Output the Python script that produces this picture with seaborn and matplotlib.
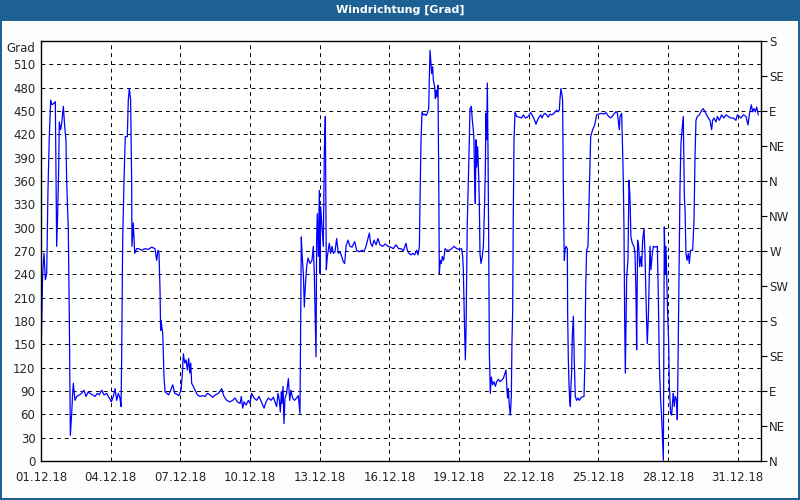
import numpy as np
import pandas as pd
import matplotlib
matplotlib.use("Agg")
import matplotlib.pyplot as plt
import matplotlib.dates as mdates
import matplotlib.patches as mpatches
import seaborn as sns

# Wind direction, December 2018 (hours since 01.12.18 00:00, degrees)
HOURS = [
    0, 0.7, 1.7, 3.1, 4.5, 5.9, 7.2, 8.6, 10.0, 11.4, 13.4, 14.8, 15.5, 16.2, 17.2, 18.3, 18.9, 20.3, 21.4, 23.1,
    24.5, 25.8, 26.5, 28.2, 29.3, 30.3, 31.7, 32.7, 33.4, 35.1, 36.9, 39.6, 42.0, 44.4, 46.5, 48.9, 50.6, 53.4,
    55.8, 58.2, 60.3, 62.7, 65.1, 67.8, 70.6, 72.7, 74.7, 76.5, 78.2, 79.9, 81.6, 82.7, 83.3, 84.4, 85.8, 87.1,
    89.2, 90.2, 91.3, 92.6, 93.7, 94.0, 95.4, 96.8, 98.8, 100.9, 104.0, 107.5, 110.9, 114.3, 117.8, 119.5, 120.9,
    121.9, 123.0, 123.6, 124.0, 125.8, 127.1, 128.2, 129.9, 132.0, 134.0, 136.1, 138.2, 140.2, 142.3, 144.7,
    146.1, 147.1, 148.5, 149.9, 151.2, 152.6, 153.7, 154.7, 155.7, 157.4, 159.2, 161.6, 164.3, 167.1, 169.5,
    171.9, 174.7, 177.4, 180.2, 183.3, 186.7, 189.1, 191.9, 195.3, 198.1, 200.5, 202.9, 205.7, 207.0, 208.4,
    209.8, 211.9, 214.3, 216.0, 217.7, 220.1, 222.9, 225.3, 227.7, 230.5, 232.5, 234.9, 237.7, 240.1, 241.8,
    243.5, 244.9, 246.3, 247.3, 248.4, 249.0, 250.1, 251.1, 252.1, 253.8, 255.6, 257.0, 258.3, 260.0, 262.1,
    264.2, 265.9, 267.0, 267.6, 268.3, 269.0, 269.7, 271.1, 272.1, 273.1, 274.5, 275.9, 278.0, 280.0, 281.4,
    282.4, 283.5, 284.2, 284.8, 285.5, 286.6, 287.6, 288.3, 289.0, 290.4, 291.7, 292.8, 293.8, 294.8, 295.9,
    297.9, 299.3, 300.7, 302.1, 303.8, 305.5, 307.2, 309.0, 310.7, 312.4, 313.8, 315.2, 317.2, 319.3, 321.4,
    324.1, 326.2, 329.0, 331.7, 333.8, 335.8, 337.5, 339.3, 340.6, 342.4, 344.1, 346.2, 348.2, 350.3, 353.0,
    355.8, 358.5, 361.3, 364.1, 366.8, 369.6, 372.3, 374.4, 376.1, 377.2, 378.5, 380.3, 382.3, 384.1, 386.1,
    388.2, 389.6, 391.0, 391.6, 392.7, 393.7, 395.1, 396.5, 397.8, 399.2, 400.6, 401.3, 402.0, 402.7, 403.7,
    404.7, 405.4, 406.8, 407.5, 408.2, 409.2, 410.2, 411.0, 411.6, 412.6, 413.7, 414.7, 416.1, 417.5, 419.2,
    422.0, 424.4, 426.8, 429.5, 432.3, 434.7, 435.7, 436.4, 437.4, 438.5, 439.2, 439.9, 440.5, 441.6, 442.6,
    443.3, 444.7, 445.7, 446.7, 447.4, 448.1, 448.8, 449.5, 450.2, 451.2, 452.3, 453.0, 453.6, 454.7, 456.0,
    457.1, 458.1, 459.1, 459.8, 460.5, 461.2, 461.9, 462.6, 463.3, 464.3, 465.3, 466.7, 468.1, 469.5, 470.9,
    472.6, 474.3, 476.0, 477.7, 479.5, 480.5, 481.5, 482.2, 482.9, 484.0, 485.0, 486.0, 486.7, 487.4, 488.1,
    488.8, 489.8, 491.5, 494.3, 496.7, 498.4, 500.5, 502.5, 504.6, 506.0, 507.4, 508.7, 510.1, 511.5, 512.9,
    514.6, 516.3, 517.7, 519.1, 520.8, 522.5, 524.2, 525.9, 527.7, 529.4, 531.5, 532.8, 534.2, 535.6, 536.3,
    537.3, 538.3, 539.0, 539.7, 540.4, 540.8, 541.4, 542.5, 543.9, 544.2, 544.9, 545.6, 546.3, 547.0, 547.6,
    548.3, 549.0, 550.1, 551.1, 552.1, 553.5, 554.9, 556.3, 558.3, 561.1, 562.1, 562.8, 563.8, 565.2, 566.6,
    568.0, 570.0, 572.1, 574.2, 576.2, 579.0, 581.7, 583.8, 585.9, 588.6, 591.4, 594.1, 595.5, 596.5, 597.6,
    598.3, 600.0, 601.0, 601.7, 602.4, 603.1, 603.8, 604.5, 605.2, 606.5, 607.6, 608.6, 609.6, 611.0, 612.7,
    613.8, 614.8, 615.5, 616.5, 617.6, 618.6, 620.0, 620.7, 621.7, 623.1, 624.1, 625.2, 626.5, 627.6, 628.6,
    629.3, 630.3, 631.4, 632.7, 634.8, 636.9, 637.9, 638.9, 640.3, 641.3, 642.4, 643.1, 644.1, 645.1, 645.8,
    646.5, 647.5, 648.6, 649.3, 650.6, 651.7, 652.7, 653.4, 654.4, 655.5, 656.8, 657.5, 658.2, 659.3, 660.3,
    661.3, 662.4, 663.7, 664.8, 665.5, 666.5, 667.5, 668.9, 669.9, 671.3, 673.4, 674.8, 675.8, 676.8, 678.2,
    680.3, 682.7, 684.4, 686.1, 687.8, 689.6, 691.3, 693.0, 694.0, 695.4, 697.5, 698.9, 700.9, 703.3, 705.7,
    707.8, 710.2, 712.6, 715.4, 718.1, 719.5, 721.6, 723.3, 725.7, 728.5, 730.6, 731.9, 734.0, 735.4, 736.7,
    738.1, 739.5, 741.2,
]
GRAD = [
    130, 177, 241, 267, 233, 241, 348, 417, 464, 458, 460, 462, 370, 276, 318, 378, 436, 426, 434, 456,
    430, 413, 361, 297, 181, 33, 61, 87, 100, 78, 83, 85, 87, 91, 83, 89, 87, 85,
    83, 87, 85, 91, 85, 87, 81, 76, 83, 93, 78, 87, 81, 70, 126, 284, 361, 417,
    417, 464, 479, 464, 357, 276, 306, 267, 273, 273, 271, 273, 272, 275, 273, 258, 271,
    267, 220, 168, 181, 164, 108, 89, 87, 85, 91, 98, 87, 86, 84, 91,
    113, 138, 126, 130, 117, 132, 113, 126, 100, 96, 91, 85, 83, 84, 83,
    87, 85, 82, 85, 87, 93, 83, 78, 76, 78, 81, 76, 74, 83, 68,
    76, 72, 78, 74, 87, 81, 78, 83, 76, 68, 76, 81, 78, 82, 76,
    70, 87, 78, 63, 89, 74, 96, 48, 81, 87, 106, 78, 91, 81, 78,
    81, 84, 70, 61, 177, 288, 267, 241, 198, 224, 250, 261, 254, 258, 276,
    241, 173, 134, 284, 318, 263, 348, 241, 327, 301, 276, 400, 443, 246, 263,
    280, 267, 276, 267, 269, 286, 267, 269, 263, 256, 254, 276, 284, 276, 275,
    282, 271, 269, 271, 269, 276, 284, 293, 280, 276, 284, 278, 286, 278, 276,
    279, 276, 275, 273, 278, 273, 273, 270, 276, 280, 271, 267, 265, 267, 265,
    271, 265, 276, 331, 413, 449, 445, 446, 444, 447, 453, 494, 528, 516, 498,
    507, 490, 481, 466, 477, 468, 483, 361, 241, 258, 254, 263, 258, 273, 271,
    271, 273, 276, 273, 272, 273, 263, 246, 186, 130, 168, 241, 306, 361, 413,
    453, 456, 438, 426, 413, 361, 331, 413, 378, 404, 366, 327, 267, 254, 263,
    276, 318, 370, 447, 413, 486, 400, 284, 138, 87, 108, 98, 102, 96, 102,
    105, 102, 104, 106, 113, 117, 91, 81, 93, 70, 59, 83, 156, 194, 327,
    413, 449, 443, 442, 441, 445, 441, 442, 445, 448, 445, 442, 438, 433, 438,
    442, 445, 441, 445, 447, 445, 442, 446, 445, 446, 449, 451, 449, 451, 466,
    479, 471, 464, 361, 284, 258, 271, 276, 273, 190, 130, 100, 78, 70, 96,
    113, 160, 186, 126, 83, 78, 81, 78, 82, 83, 130, 220, 271, 276, 348,
    417, 426, 432, 445, 446, 447, 446, 448, 444, 441, 445, 449, 448, 438, 426,
    443, 447, 400, 361, 301, 186, 113, 173, 237, 258, 361, 340, 288, 280, 276,
    267, 216, 143, 284, 276, 250, 263, 250, 284, 299, 267, 207, 151, 186, 241,
    276, 246, 263, 276, 275, 276, 211, 126, 78, 57, 23, 1, 301, 241, 276,
    241, 190, 151, 96, 61, 59, 78, 87, 70, 83, 78, 53, 117, 241, 353,
    408, 426, 443, 340, 323, 267, 258, 267, 254, 271, 271, 310, 391, 438, 443,
    445, 451, 453, 449, 445, 441, 438, 426, 438, 441, 436, 443, 438, 445, 441,
    445, 443, 441, 441, 438, 445, 443, 441, 445, 443, 432, 445, 458, 449, 453,
    449, 455, 445,
]

Y_TICKS = list(range(0, 541, 30))
COMPASS_TICKS = list(range(0, 541, 45))
COMPASS_LABELS = ["N", "NE", "E", "SE", "S", "SW", "W", "NW", "N", "NE", "E", "SE", "S"]

START = pd.Timestamp("2018-12-01")
END = pd.Timestamp("2019-01-01")
DATE_TICKS = pd.date_range(START, "2018-12-31", freq="3D")

df = pd.DataFrame({
    "time": START + pd.to_timedelta(HOURS, unit="h"),
    "grad": GRAD,
})

sns.set_style("white")
plt.rcParams["font.family"] = ["DejaVu Sans"]

FRAME = "#1d6194"
fig = plt.figure(figsize=(8, 5), dpi=100, facecolor=FRAME)

# window look: blue frame, white client area, title bar
fig.patches.append(mpatches.Rectangle((2 / 800, 2 / 500), 796 / 800, 477 / 500,
                                      transform=fig.transFigure, facecolor="#fcfdfd",
                                      edgecolor="none", zorder=-10))
fig.text(0.5, 1 - 10 / 500, "Windrichtung [Grad]", color="white", fontsize=8,
         fontweight="bold", ha="center", va="center")

ax = fig.add_axes([41 / 800, 39 / 500, 720 / 800, 420 / 500])
ax.set_facecolor("white")

sns.lineplot(data=df, x="time", y="grad", ax=ax, color="#0000ff", linewidth=0.9)

ax.set_xlim(START, END)
ax.set_ylim(0, 540)
ax.set_xlabel("")
ax.set_ylabel("")

ax.set_xticks(DATE_TICKS)
ax.xaxis.set_minor_locator(mdates.DayLocator())
ax.xaxis.set_major_formatter(mdates.DateFormatter("%d.%m.%y"))
ax.set_yticks(Y_TICKS)
ax.set_yticklabels([str(v) for v in Y_TICKS[:-1]] + [""])

ax.grid(True, which="major", color="black", linestyle=(0, (4, 4)), linewidth=0.7)
ax.tick_params(axis="x", which="both", direction="out", length=4, width=0.8,
               color="black", labelsize=8.5, pad=3)
ax.tick_params(axis="y", length=0, labelsize=8.5, pad=4)
for s in ax.spines.values():
    s.set_color("black")
    s.set_linewidth(1.0)

ax.text(-0.008, 530, "Grad", transform=ax.get_yaxis_transform(), ha="right",
        va="center", fontsize=8.5)

ax2 = ax.twinx()
ax2.set_ylim(0, 540)
ax2.set_yticks(COMPASS_TICKS)
ax2.set_yticklabels(COMPASS_LABELS)
ax2.tick_params(axis="y", direction="out", length=4, width=0.8, color="black",
                labelsize=8.5, pad=2)
for s in ax2.spines.values():
    s.set_visible(False)

fig.savefig("out.png", dpi=100, facecolor=FRAME)
